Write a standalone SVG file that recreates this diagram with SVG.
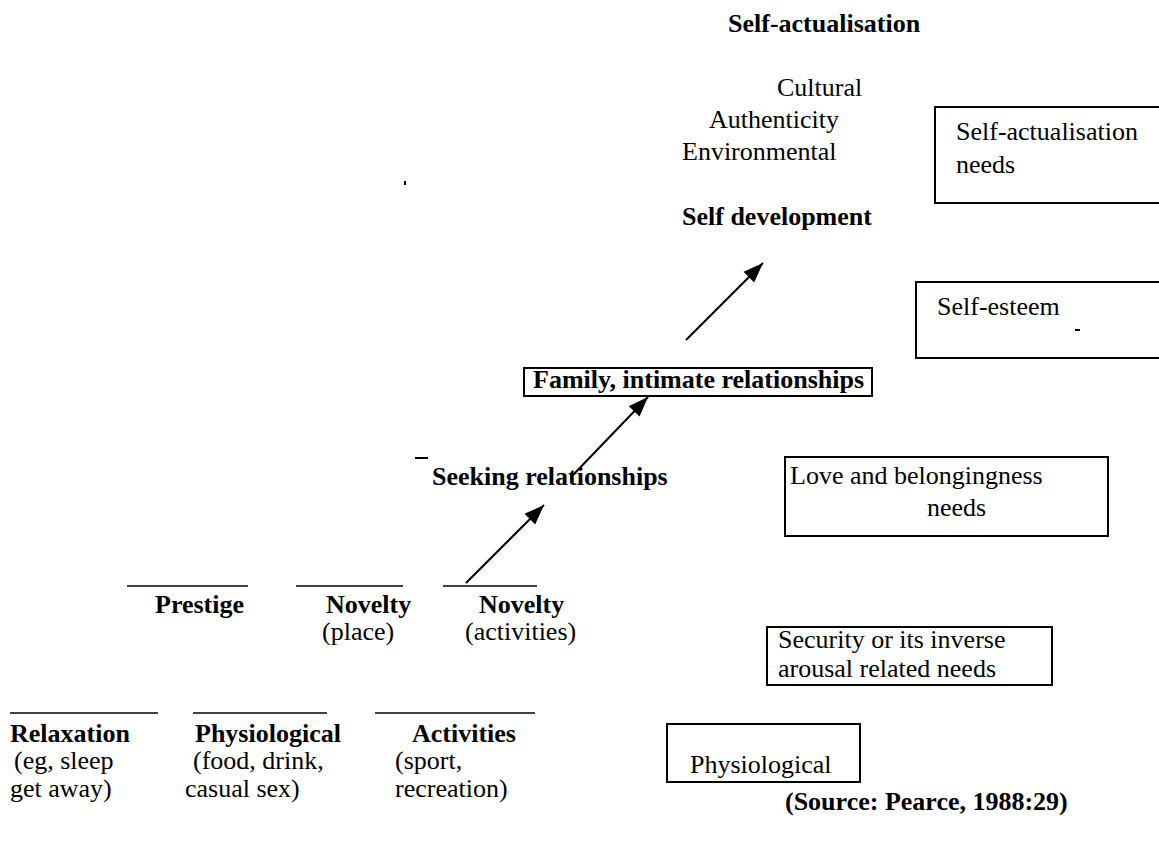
<svg xmlns="http://www.w3.org/2000/svg" width="1159" height="841" viewBox="0 0 1159 841" font-family="'Liberation Serif', 'Times New Roman', 'DejaVu Serif', serif">
<style>
text{font-family:'Liberation Serif','Times New Roman','DejaVu Serif',serif;font-size:26px;fill:#000}
.b{font-weight:bold}
.box{fill:none;stroke:#000;stroke-width:2}
.rule{stroke:#000;stroke-width:1.6}
.arr{stroke:#000;stroke-width:2;fill:none;marker-end:url(#ah)}
</style>
<defs>
<marker id="ah" markerUnits="userSpaceOnUse" markerWidth="20" markerHeight="16" refX="16" refY="6" orient="auto" viewBox="0 0 16 12">
<path d="M0,0 L16,6 L0,12 Z" fill="#000"/>
</marker>
</defs>
<rect width="1159" height="841" fill="#fff"/>

<g id="self-actualisation"><text class="b" x="728" y="32">Self-actualisation</text></g>
<g id="motives-top">
<text x="777" y="96">Cultural</text>
<text x="709" y="128">Authenticity</text>
<text x="682" y="160">Environmental</text>
</g>
<g id="self-development"><text class="b" x="682" y="225">Self development</text></g>
<g id="family"><rect class="box" x="524" y="368" width="348" height="28"/><text class="b" x="533" y="388">Family, intimate relationships</text></g>
<g id="seeking"><text class="b" x="432" y="485">Seeking relationships</text><rect x="415" y="457" width="13" height="2" fill="#000"/></g>

<g id="prestige"><line class="rule" x1="127" y1="586" x2="248" y2="586"/><text class="b" x="155" y="613">Prestige</text></g>
<g id="novelty-place"><line class="rule" x1="296" y1="586" x2="403" y2="586"/><text class="b" x="326" y="613">Novelty</text><text x="322" y="640">(place)</text></g>
<g id="novelty-activities"><line class="rule" x1="443" y1="586" x2="537" y2="586"/><text class="b" x="479" y="613">Novelty</text><text x="465" y="640">(activities)</text></g>

<g id="relaxation"><line class="rule" x1="10" y1="713" x2="158" y2="713"/><text class="b" x="10" y="742">Relaxation</text><text x="14" y="769">(eg, sleep</text><text x="10" y="797">get away)</text></g>
<g id="physiological-motive"><line class="rule" x1="193" y1="713" x2="327" y2="713"/><text class="b" x="195" y="742">Physiological</text><text x="193" y="769">(food, drink,</text><text x="185" y="797">casual sex)</text></g>
<g id="activities"><line class="rule" x1="375" y1="713" x2="535" y2="713"/><text class="b" x="412" y="742">Activities</text><text x="395" y="769">(sport,</text><text x="395" y="797">recreation)</text></g>

<g id="sa-needs"><rect class="box" x="935" y="107" width="226" height="96"/><text x="956" y="140">Self-actualisation</text><text x="956" y="173">needs</text></g>
<g id="self-esteem"><rect class="box" x="916" y="282" width="245" height="76"/><text x="937" y="315">Self-esteem</text><rect x="1075" y="329" width="5" height="2" fill="#000"/></g>
<g id="love"><rect class="box" x="785" y="457" width="323" height="79"/><text x="790" y="484">Love and belongingness</text><text x="927" y="516">needs</text></g>
<g id="security"><rect class="box" x="767" y="627" width="285" height="58"/><text x="778" y="648">Security or its inverse</text><text x="778" y="677">arousal related needs</text></g>
<g id="physiological-need"><rect class="box" x="667" y="724" width="193" height="58"/><text x="690" y="773">Physiological</text></g>

<g id="source"><text class="b" x="785" y="810">(Source: Pearce, 1988:29)</text></g>
<g id="marks"><rect x="404" y="181" width="2" height="4" fill="#000"/></g>

<g id="connectors">
<line class="arr" x1="466" y1="583" x2="544" y2="505"/>
<line class="arr" x1="573" y1="475" x2="648" y2="397"/>
<line class="arr" x1="686" y1="340" x2="763" y2="263"/>
</g>
</svg>
